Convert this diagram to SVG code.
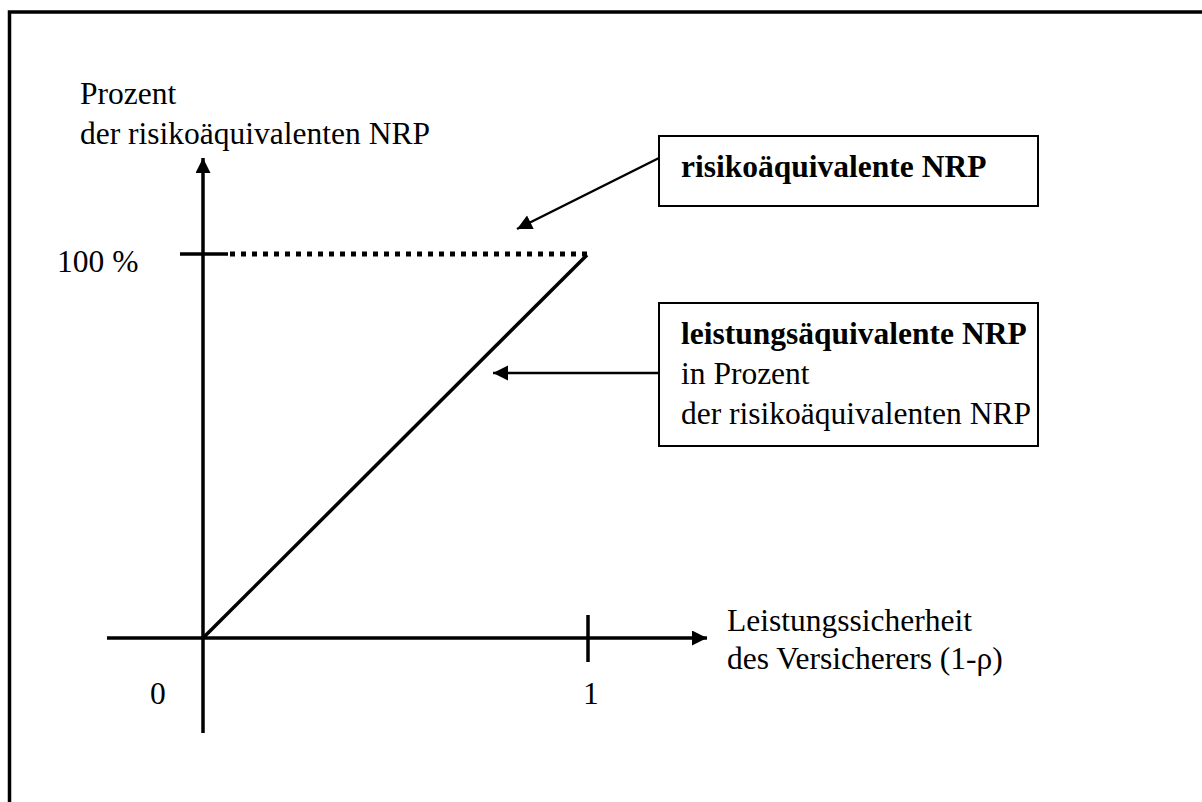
<svg xmlns="http://www.w3.org/2000/svg" width="1202" height="802" viewBox="0 0 1202 802">
<defs>
<style>
text{font-family:"Liberation Serif","Times New Roman",serif;font-size:31.5px;fill:#000}
.b{font-weight:bold}
.ax{stroke:#000;stroke-width:3.5;fill:none}
.thin{stroke:#000;stroke-width:2.5;fill:none}
.box{fill:#fff;stroke:#000;stroke-width:2}
</style>
<marker id="ah" markerWidth="16" markerHeight="16" refX="15" refY="7.5" orient="auto" markerUnits="userSpaceOnUse"><path d="M0,0 L15,7.5 L0,15 Z" fill="#000"/></marker>
</defs>
<rect width="1202" height="802" fill="#fff"/>
<path d="M9.5 802 V12 H1202" fill="none" stroke="#000" stroke-width="3.5"/>
<g id="axes">
<line class="ax" x1="203" y1="733" x2="203" y2="158" marker-end="url(#ah)"/>
<line class="ax" x1="107" y1="638" x2="707" y2="638" marker-end="url(#ah)"/>
<line class="ax" x1="180" y1="254" x2="228" y2="254"/>
<line class="ax" x1="588" y1="615" x2="588" y2="662"/>
<text x="57" y="272">100 %</text>
<text x="150" y="704">0</text>
<text x="583" y="704">1</text>
<text x="80" y="104">Prozent</text>
<text x="80" y="144">der risikoäquivalenten NRP</text>
<text x="727" y="631">Leistungssicherheit</text>
<text x="727" y="669">des Versicherers (1-ρ)</text>
</g>
<g id="curves">
<line x1="230" y1="254" x2="588" y2="254" stroke="#000" stroke-width="5" stroke-dasharray="5 6"/>
<line class="ax" x1="203" y1="638" x2="587" y2="255"/>
</g>
<g id="node-risiko">
<rect class="box" x="659" y="136" width="379" height="70"/>
<text class="b" x="681" y="177">risikoäquivalente NRP</text>
</g>
<g id="node-leistung">
<rect class="box" x="659" y="303" width="379" height="143"/>
<text class="b" x="681" y="344">leistungsäquivalente NRP</text>
<text x="681" y="384">in Prozent</text>
<text x="681" y="424">der risikoäquivalenten NRP</text>
</g>
<g id="connectors">
<line class="thin" x1="659" y1="158" x2="517" y2="229" marker-end="url(#ah)"/>
<line class="thin" x1="659" y1="373" x2="493" y2="373" marker-end="url(#ah)"/>
</g>
</svg>
